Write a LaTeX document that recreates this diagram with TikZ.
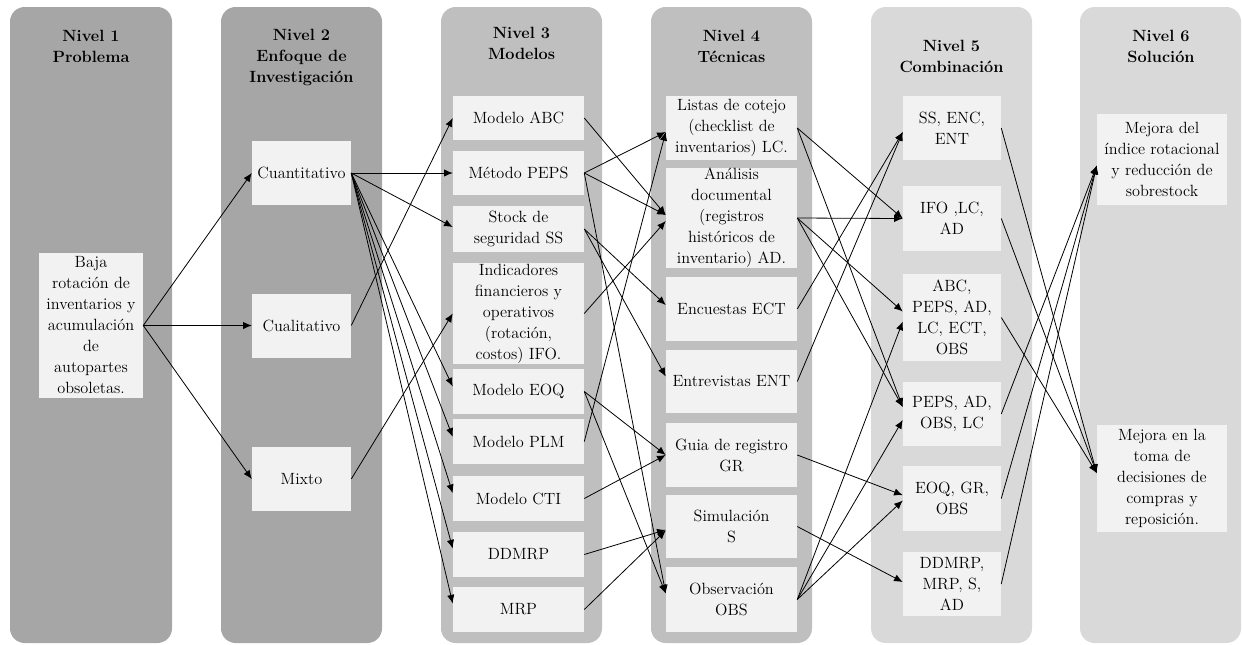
\documentclass[tikz,border=0pt]{standalone}
\usepackage{fontspec}
\usetikzlibrary{arrows.meta}
\definecolor{laneA}{HTML}{A6A6A6}
\definecolor{laneB}{HTML}{BFBFBF}
\definecolor{laneC}{HTML}{D9D9D9}
\definecolor{cellfill}{HTML}{F2F2F2}

\begin{document}
\begin{tikzpicture}[x=0.75pt,y=-0.75pt,
  lane/.style={rounded corners=11pt},
  head/.style={font=\fontsize{12.2pt}{15.75pt}\selectfont\bfseries, align=center, inner sep=0pt},
  cell/.style={fill=cellfill, inner sep=0pt, align=center,
    font=\fontsize{12.2pt}{15.75pt}\selectfont},
  wA/.style={cell, minimum width=78pt},
  wB/.style={cell, minimum width=74.25pt, minimum height=48pt},
  wC/.style={cell, minimum width=98.25pt},
  wD/.style={cell, minimum width=98.25pt},
  wE/.style={cell, minimum width=73.5pt},
  wF/.style={cell, minimum width=97.5pt},
  conn/.style={-{Latex[length=6.5pt,width=5.5pt]}, line width=0.6pt, black}]

\useasboundingbox (0,0) rectangle (1242,644);

% six level lanes
\fill[laneA, lane] (10,7) rectangle (172,643);
\fill[laneA, lane] (221,7) rectangle (382,643);
\fill[laneB, lane] (441,7) rectangle (602,643);
\fill[laneB, lane] (651,7) rectangle (812,643);
\fill[laneC, lane] (871,7) rectangle (1032,643);
\fill[laneC, lane] (1080,7) rectangle (1241,643);

% lane headings
\node[head] (h1) at (91,46.5) {Nivel 1\\Problema};
\node[head] (h2) at (301.5,57) {Nivel 2\\Enfoque de\\Investigación};
\node[head] (h3) at (521.5,43.5) {Nivel 3\\Modelos};
\node[head] (h4) at (731.5,46) {Nivel 4\\Técnicas};
\node[head] (h5) at (951.5,56.5) {Nivel 5\\Combinación};
\node[head] (h6) at (1161,46) {Nivel 6\\Solución};

% level 1
\node[wA, minimum height=108.75pt] (baja) at (91,325.5)
  {Baja\\rotación de\\inventarios y\\acumulación\\de\\autopartes\\obsoletas.};

% level 2
\node[wB] (cuant) at (301.5,173) {Cuantitativo};
\node[wB] (cual) at (301.5,325.5) {Cualitativo};
\node[wB] (mixto) at (301.5,479) {Mixto};

% level 3
\node[wC, minimum height=33pt] (abc) at (518.5,118) {Modelo ABC};
\node[wC, minimum height=33pt] (peps) at (518.5,173) {Método PEPS};
\node[wC, minimum height=34.5pt] (ss) at (518.5,229) {Stock de\\seguridad SS};
\node[wC, minimum height=75.75pt] (ifo) at (518.5,313.5)
  {Indicadores\\financieros y\\operativos\\(rotación,\\costos) IFO.};
\node[wC, minimum height=33.75pt] (eoq) at (518.5,391.5) {Modelo EOQ};
\node[wC, minimum height=33.75pt] (plm) at (518.5,441.5) {Modelo PLM};
\node[wC, minimum height=33.75pt] (cti) at (518.5,498.5) {Modelo CTI};
\node[wC, minimum height=33.75pt] (ddmrp) at (518.5,554.5) {DDMRP};
\node[wC, minimum height=33.75pt] (mrp) at (518.5,609.5) {MRP};

% level 4
\node[wD, minimum height=48pt] (lc) at (731.5,128)
  {Listas de cotejo\\(checklist de\\inventarios) LC.};
\node[wD, minimum height=75pt] (ad) at (731.5,218)
  {Análisis\\documental\\(registros\\históricos de\\inventario) AD.};
\node[wD, minimum height=48pt] (ect) at (731.5,309) {Encuestas ECT};
\node[wD, minimum height=47.25pt] (ent) at (731.5,381.5) {Entrevistas ENT};
\node[wD, minimum height=48pt] (gr) at (731.5,455) {Guia de registro\\GR};
\node[wD, minimum height=47.25pt] (sim) at (731.5,526.5) {Simulación\\S};
\node[wD, minimum height=48.75pt] (obs) at (731.5,599.5) {Observación\\OBS};

% level 5
\node[wE, minimum height=48pt] (cSS) at (952,128) {SS, ENC,\\ENT};
\node[wE, minimum height=48.75pt] (cIFO) at (952,218.5) {IFO ,LC,\\AD};
\node[wE, minimum height=65.25pt] (cABC) at (952,317.5) {ABC,\\PEPS, AD,\\LC, ECT,\\OBS};
\node[wE, minimum height=48pt] (cPEPS) at (952,414) {PEPS, AD,\\OBS, LC};
\node[wE, minimum height=48.75pt] (cEOQ) at (952,498.5) {EOQ, GR,\\OBS};
\node[wE, minimum height=48pt] (cDD) at (952,584) {DDMRP,\\MRP, S,\\AD};

% level 6
\node[wF, minimum height=68.25pt] (sol1) at (1162,159.5)
  {Mejora del\\índice rotacional\\y reducción de\\sobrestock};
\node[wF, minimum height=80.25pt] (sol2) at (1162,478.5)
  {Mejora en la\\toma de\\decisiones de\\compras y\\reposición.};

% level 1 -> level 2
\draw[conn] (baja.east) -- (cuant.west);
\draw[conn] (baja.east) -- (cual.west);
\draw[conn] (baja.east) -- (mixto.west);

% level 2 -> level 3
\draw[conn] (cuant.east) -- (peps.west);
\draw[conn] (cuant.east) -- ([yshift=1.5pt]ss.west);
\draw[conn] (cuant.east) -- ([yshift=3.75pt]eoq.west);
\draw[conn] (cuant.east) -- ([yshift=3.5pt]plm.west);
\draw[conn] (cuant.east) -- ([yshift=4pt]cti.west);
\draw[conn] (cuant.east) -- ([yshift=4.5pt]ddmrp.west);
\draw[conn] (cuant.east) -- ([yshift=4.5pt]mrp.west);
\draw[conn] (cual.east) -- (abc.west);
\draw[conn] (mixto.east) -- (ifo.west);

% level 3 -> level 4
\draw[conn] (abc.east) -- ([yshift=2.25pt]ad.west);
\draw[conn] (peps.east) -- ([yshift=-3pt]lc.west);
\draw[conn] (peps.east) -- ([yshift=2.25pt]ad.west);
\draw[conn] (peps.east) -- ([yshift=4.5pt]obs.west);
\draw[conn] (ss.east) -- ([yshift=3pt]ect.west);
\draw[conn] (ss.east) -- ([yshift=3.75pt]ent.west);
\draw[conn] (ifo.east) -- ([yshift=-2.25pt]ad.west);
\draw[conn] (eoq.east) -- (gr.west);
\draw[conn] (eoq.east) -- ([yshift=4.5pt]obs.west);
\draw[conn] (plm.east) -- ([yshift=-3pt]lc.west);
\draw[conn] (cti.east) -- (gr.west);
\draw[conn] (ddmrp.east) -- ([yshift=-2.5pt]sim.west);
\draw[conn] (mrp.east) -- ([yshift=-3pt]sim.west);

% level 4 -> level 5
\draw[conn] (lc.east) -- (cIFO.west);
\draw[conn] (lc.east) -- ([yshift=5.25pt]cPEPS.west);
\draw[conn] (ad.east) -- (cIFO.west);
\draw[conn] (ad.east) -- ([yshift=4.5pt]cABC.west);
\draw[conn] (ad.east) -- ([yshift=5.25pt]cPEPS.west);
\draw[conn] (ect.east) -- ([yshift=-3pt]cSS.west);
\draw[conn] (ent.east) -- ([yshift=-3pt]cSS.west);
\draw[conn] (gr.east) -- ([yshift=2.5pt]cEOQ.west);
\draw[conn] (obs.east) -- ([yshift=-3pt]cABC.west);
\draw[conn] (obs.east) -- ([yshift=-4.5pt]cPEPS.west);
\draw[conn] (obs.east) -- ([yshift=-1.5pt]cEOQ.west);
\draw[conn] (sim.east) -- ([yshift=1.5pt]cDD.west);

% level 5 -> level 6
\draw[conn] (cSS.east) -- ([yshift=4pt]sol2.west);
\draw[conn] (cIFO.east) -- ([yshift=4pt]sol2.west);
\draw[conn] (cABC.east) -- ([yshift=4pt]sol2.west);
\draw[conn] (cPEPS.east) -- ([yshift=-4.5pt]sol1.west);
\draw[conn] (cEOQ.east) -- ([yshift=-4.5pt]sol1.west);
\draw[conn] (cDD.east) -- ([yshift=-4.5pt]sol1.west);

\end{tikzpicture}
\end{document}
